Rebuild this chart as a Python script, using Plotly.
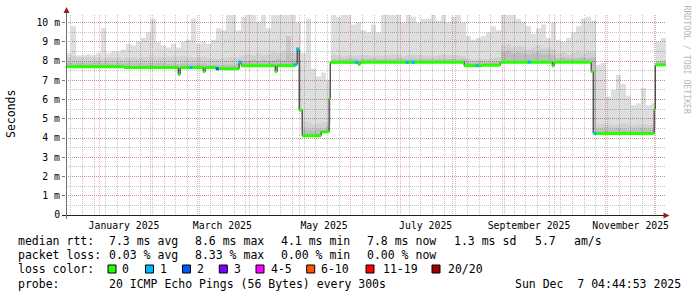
import plotly.graph_objects as go
import pandas as pd

# ---------------- data ----------------
start_time = "2024-12-12 04:44:53"
end_time = "2025-12-07 04:44:53"

# smoke (ping distribution) upper envelopes, one sample every 3 days
smoke_max = [8.4, 9.8, 8.3, 8.3, 8.35, 8.3, 8.4, 9.7, 8.4, 8.5,
             8.5, 8.6, 8.9, 8.8, 9.0, 9.2, 9.5, 10.2, 9.0, 8.8,
             8.7, 8.9, 8.7, 9.0, 9.1, 10.2, 8.9, 9.0, 8.9, 9.1,
             9.7, 9.6, 10.4, 10.4, 9.6, 10.3, 10.4, 10.4, 10.0, 10.4,
             9.7, 10.4, 10.4, 10.4, 10.4, 10.4, 10.0, 8.4, 10.2, 7.6,
             7.2, 7.4, 7.0, 10.4, 10.3, 10.4, 10.4, 9.9, 10.0, 9.6,
             9.5, 9.9, 9.5, 10.4, 10.4, 10.4, 10.4, 10.0, 10.4, 10.3,
             10.0, 10.2, 10.2, 10.4, 10.1, 10.4, 10.0, 10.3, 10.4, 10.0,
             9.3, 9.1, 9.2, 9.3, 9.5, 9.8, 9.6, 10.4, 10.4, 10.4,
             10.2, 10.0, 9.8, 9.4, 9.7, 9.9, 9.2, 10.0, 9.1, 9.0,
             9.2, 9.5, 9.8, 10.2, 10.3, 10.1, 7.8, 7.9, 6.15, 6.5,
             7.27, 6.8, 6.2, 5.7, 5.8, 6.6, 5.7, 5.8, 9.0, 9.2,
             9.1]
smoke_mid = [8.20, 8.25, 8.20, 8.20, 8.22, 8.18, 8.20,
             8.15, 8.18, 8.15, 8.20, 8.15, 8.20, 8.18, 8.15, 8.20, 8.22, 8.25, 8.20,
             8.20, 8.18, 8.22, 8.20, 8.25, 8.20, 8.18, 8.20, 8.22, 8.15, 8.12, 8.10, 8.15, 8.20, 8.18, 8.20,
             8.30, 8.35, 8.30, 8.40, 8.30, 8.35, 8.45, 8.40, 8.50, 8.40, 8.45, 8.50,
             4.90, 4.80, 4.70, 4.75, 4.80, 4.85,
             8.35, 8.30, 8.25, 8.30, 8.28, 8.30, 8.32, 8.30, 8.25, 8.30, 8.28, 8.30, 8.35, 8.30,
             8.25, 8.30, 8.32, 8.30, 8.28, 8.30, 8.25, 8.30, 8.35, 8.30, 8.28, 8.30, 8.25,
             8.10, 8.05, 8.10, 8.12, 8.10, 8.15, 8.20,
             8.80, 8.90, 8.70, 8.80, 8.75, 8.60, 8.70, 8.80, 8.65, 8.70, 8.60,
             8.40, 8.45, 8.35, 8.40, 8.45, 8.40, 8.50, 8.45,
             4.70, 4.75, 4.70, 4.65, 4.70, 4.75, 4.70, 4.65, 4.70, 4.72, 4.68, 4.70,
             8.00, 8.05, 8.00]
smoke_inner = [7.92, 7.90, 7.92, 7.90, 7.92, 7.90, 7.92,
               7.88, 7.90, 7.88, 7.90, 7.88, 7.90, 7.88, 7.90, 7.88, 7.90, 7.88, 7.90,
               7.88, 7.85, 7.88, 7.85, 7.88, 7.85, 7.88, 7.85, 7.88, 7.82, 7.80, 7.80, 7.82, 7.80, 7.82, 7.85,
               8.00, 8.00, 8.05, 8.00, 8.05, 8.00, 8.05, 8.10, 8.05, 9.30, 8.10, 8.05,
               4.45, 4.40, 4.40, 4.45, 4.40, 4.60,
               8.10, 8.08, 8.10, 8.12, 8.10, 8.08, 8.10, 8.10, 8.12, 8.10, 8.08, 8.10, 8.10, 8.12,
               8.10, 8.08, 8.10, 8.10, 8.12, 8.10, 8.08, 8.10, 8.10, 8.12, 8.10, 8.08, 8.10,
               7.95, 7.93, 7.95, 7.95, 7.93, 7.95, 7.98,
               8.50, 8.55, 8.40, 8.45, 8.40, 8.35, 8.40, 8.45, 8.35, 8.40, 8.30,
               8.15, 8.20, 8.15, 8.12, 8.15, 8.20, 8.15, 8.18,
               4.45, 4.45, 4.42, 4.45, 4.48, 4.45, 4.42, 4.45, 4.45, 4.48, 4.45, 4.45,
               7.95, 7.95, 7.95]

# median rtt (ms), step changes
median_dates = ["2024-12-12 04:45", "2025-01-16 02:00", "2025-02-17 12:00", "2025-02-18 17:00",
                "2025-03-04 12:00", "2025-03-05 17:00", "2025-03-12 07:00", "2025-03-26 02:00",
                "2025-03-27 07:00", "2025-04-16 17:00", "2025-04-17 22:00", "2025-04-28 17:00",
                "2025-04-29 22:00", "2025-05-01 02:00", "2025-05-02 22:00", "2025-05-14 07:00",
                "2025-05-19 02:00", "2025-05-19 17:00", "2025-06-05 12:00", "2025-06-06 17:00",
                "2025-08-08 02:00", "2025-08-18 22:00", "2025-08-29 17:00", "2025-09-29 22:00",
                "2025-10-01 02:00", "2025-10-23 07:00", "2025-10-24 12:00", "2025-11-30 02:00",
                "2025-11-30 17:00", "2025-12-07 04:44"]
median_ms = [7.70, 7.66, 7.30, 7.66, 7.45, 7.66, 7.60, 7.92, 7.76, 7.45,
             7.76, 7.82, 8.62, 5.45, 4.12, 4.32, 6.05, 7.93, 7.82, 7.93,
             7.76, 7.78, 7.93, 7.75, 7.93, 7.45, 4.24, 5.50, 7.80, 7.80]

# samples with packet loss
loss_dates = ["2025-02-25 07:00", "2025-03-12 22:00", "2025-03-26 12:00", "2025-04-28 17:00",
              "2025-04-30 04:00", "2025-06-04 07:00", "2025-07-04 22:00", "2025-07-08 12:00",
              "2025-08-15 22:00", "2025-09-16 02:00", "2025-10-25 17:00"]
loss_ms = [7.66, 7.60, 7.95, 7.80, 8.62, 7.93, 7.93, 7.93, 7.76, 7.95, 4.24]
loss_count = [1, 2, 1, 1, 1, 1, 1, 1, 1, 1, 1]

loss_legend_labels = ["0", "1", "2", "3", "4-5", "6-10", "11-19", "20/20"]
loss_legend_colors = ["#26ff00", "#00b8ff", "#0059ff", "#7e00ff", "#ff00ff", "#ff5500", "#ff0000", "#a00000"]

y_tick_values = [0, 1, 2, 3, 4, 5, 6, 7, 8, 9, 10]
y_tick_labels = ["0", "1 m", "2 m", "3 m", "4 m", "5 m", "6 m", "7 m", "8 m", "9 m", "10 m"]
x_label_dates = ["2025-01-16", "2025-03-16", "2025-05-16", "2025-07-16", "2025-09-16", "2025-11-16"]
x_label_text = ["January 2025", "March 2025", "May 2025", "July 2025", "September 2025", "November 2025"]

stats_rtt = ["median rtt:", "7.3 ms avg", "8.6 ms max", "4.1 ms min", "7.8 ms now", "1.3 ms sd", "5.7", "am/s"]
stats_loss = ["packet loss:", "0.03 % avg", "8.33 % max", "0.00 % min", "0.00 % now"]
loss_color_title = "loss color:"
probe_info = ["probe:", "20 ICMP Echo Pings (56 Bytes) every 300s", "Sun Dec  7 04:44:53 2025"]
y_title = "Seconds"
watermark = "RRDTOOL / TOBI OETIKER"

# ---------------- figure ----------------
W_FIG, H_FIG = 697, 297
L, T, PW, PH = 66, 15, 600, 200
MONO = "DejaVu Sans Mono"

def px_x(px):
    return (px - L) / PW

def px_y(py):
    return (T + PH - py) / PH

def keep_spaces(s):
    return s.replace("  ", "\u00a0\u00a0")

smoke_dates = pd.date_range(start_time, end_time, periods=len(smoke_max))

fig = go.Figure()

def base():
    fig.add_trace(go.Scatter(x=median_dates, y=median_ms, mode="lines",
                             line=dict(width=0, shape="hv"), hoverinfo="skip", showlegend=False))

for vals, col in [(smoke_max, "rgba(0,0,0,0.13)"),
                  (smoke_mid, "rgba(0,0,0,0.06)"),
                  (smoke_inner, "rgba(0,0,0,0.085)")]:
    base()
    fig.add_trace(go.Scatter(x=smoke_dates, y=vals, mode="lines", fill="tonexty",
                             fillcolor=col, line=dict(width=0, shape="hv"),
                             hoverinfo="skip", showlegend=False))

# black median line
fig.add_trace(go.Scatter(x=median_dates, y=median_ms, mode="lines",
                         line=dict(color="#202020", width=1, shape="hv"),
                         hoverinfo="skip", showlegend=False))

# loss-coloured horizontal median segments (no loss -> green)
gx, gy = [], []
for i in range(len(median_dates) - 1):
    gx += [median_dates[i], median_dates[i + 1], None]
    gy += [median_ms[i], median_ms[i], None]
fig.add_trace(go.Scatter(x=gx, y=gy, mode="lines", line=dict(color=loss_legend_colors[0], width=3),
                         hoverinfo="skip", showlegend=False, connectgaps=False))

fig.add_trace(go.Scatter(x=loss_dates, y=loss_ms, mode="markers",
                         marker=dict(symbol="square", size=3,
                                     color=[loss_legend_colors[c] for c in loss_count],
                                     line=dict(width=0)),
                         hoverinfo="skip", showlegend=False))

# invisible trace carrying the label axis
fig.add_trace(go.Scatter(x=x_label_dates, y=[0] * len(x_label_dates), xaxis="x2", mode="markers",
                         marker=dict(opacity=0), hoverinfo="skip", showlegend=False))

MGRID = "rgba(222,79,79,0.45)"
GRID = "rgba(140,140,140,0.5)"
DOTS = "1px,1px"

fig.update_layout(
    width=W_FIG, height=H_FIG,
    margin=dict(l=L, r=W_FIG - L - PW, t=T, b=H_FIG - T - PH, pad=0),
    paper_bgcolor="white", plot_bgcolor="white",
    font=dict(family=MONO, color="black"),
    xaxis=dict(type="date", range=[start_time, end_time], showticklabels=False, ticks="",
               showline=False, zeroline=False, showgrid=True, gridcolor=MGRID, griddash=DOTS,
               gridwidth=1, tickmode="linear", tick0="2025-01-01", dtick="M1",
               minor=dict(tickmode="linear", tick0="2024-12-22", dtick=7 * 86400000,
                          showgrid=True, gridcolor=GRID, griddash=DOTS, gridwidth=1, ticks="")),
    xaxis2=dict(type="date", range=[start_time, end_time], overlaying="x", anchor="y", side="bottom",
                tickmode="array", tickvals=x_label_dates, ticktext=x_label_text,
                showgrid=False, zeroline=False, showline=False, ticks="", ticklabelstandoff=3,
                tickfont=dict(family=MONO, size=9.8, color="black")),
    yaxis=dict(range=[0, 10.39], tickmode="array", tickvals=y_tick_values, ticktext=y_tick_labels,
               showgrid=True, gridcolor=MGRID, griddash=DOTS, gridwidth=1, zeroline=False,
               showline=False, ticks="outside", ticklen=3, tickcolor="#777777", tickwidth=1,
               tickfont=dict(family=MONO, size=9.8, color="black"),
               minor=dict(tickmode="linear", tick0=0, dtick=0.5, showgrid=True, gridcolor=GRID,
                          griddash=DOTS, gridwidth=1, ticks="")),
    hovermode=False,
)

shapes = []
# axes with overhang and arrows
shapes.append(dict(type="line", xref="paper", yref="paper", x0=px_x(62), x1=px_x(668),
                   y0=px_y(215.5), y1=px_y(215.5), line=dict(color="#202020", width=1)))
shapes.append(dict(type="line", xref="paper", yref="paper", x0=px_x(66.5), x1=px_x(66.5),
                   y0=px_y(219), y1=px_y(12), line=dict(color="#707070", width=1)))
shapes.append(dict(type="path", xref="paper", yref="paper",
                   path="M {} {} L {} {} L {} {} Z".format(px_x(663.5), px_y(212.5), px_x(663.5), px_y(218.5),
                                                            px_x(669.5), px_y(215.5)),
                   fillcolor="#902020", line=dict(width=0)))
shapes.append(dict(type="path", xref="paper", yref="paper",
                   path="M {} {} L {} {} L {} {} Z".format(px_x(63.5), px_y(13), px_x(69.5), px_y(13),
                                                            px_x(66.5), px_y(7)),
                   fillcolor="#902020", line=dict(width=0)))

ann = []
def text(s, px, py, size=11.5, color="black", xanchor="left", angle=0):
    ann.append(dict(text=keep_spaces(s), x=px_x(px), y=px_y(py), xref="paper", yref="paper",
                    showarrow=False, xanchor=xanchor, yanchor="middle", textangle=angle,
                    font=dict(family=MONO, size=size, color=color)))

for s, px in zip(stats_rtt, [16, 107.3, 193.3, 279.3, 365, 451.7, 533.3, 571.7]):
    text(s, px, 241)
for s, px in zip(stats_loss, [16, 107.3, 193.3, 279.3, 365]):
    text(s, px, 255)
text(loss_color_title, 16, 269)
box_x = [108, 145.5, 182.5, 219.3, 256, 306.7, 366, 432]
lab_x = [120, 157.5, 195, 231.7, 269.3, 319.3, 380.7, 446]
for lab, col, bx, lx in zip(loss_legend_labels, loss_legend_colors, box_x, lab_x):
    shapes.append(dict(type="rect", xref="paper", yref="paper", x0=px_x(bx), x1=px_x(bx + 8),
                       y0=px_y(273), y1=px_y(265), fillcolor=col, line=dict(color="black", width=1)))
    text(lab, lx, 269)
for s, px in zip(probe_info, [16, 107.3, 513.3]):
    text(s, px, 283.5)

text(y_title, 11, 114, size=11.5, xanchor="center", angle=-90)
text(watermark, 687, 59.5, size=8.2, color="#b8b8b8", xanchor="center", angle=90)

fig.update_layout(shapes=shapes, annotations=ann)
fig.write_html("out.html")
